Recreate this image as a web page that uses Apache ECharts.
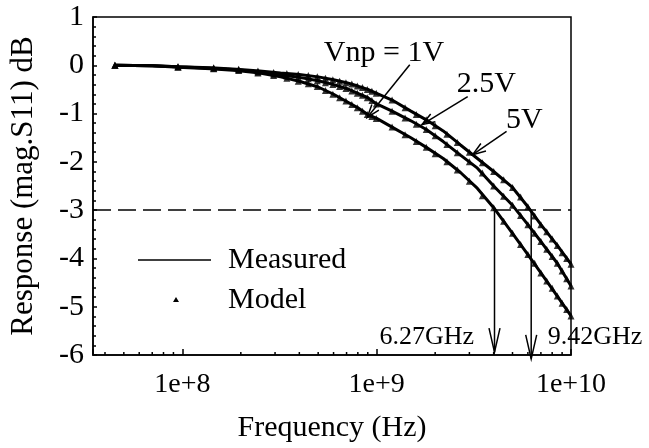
<!DOCTYPE html>
<html><head><meta charset="utf-8">
<script src="https://cdn.jsdelivr.net/npm/echarts@6/dist/echarts.min.js"></script>
<style>html,body{margin:0;padding:0;background:#fff}#c{width:649px;height:448px}</style>
</head><body><div id="c"></div>
<script>
// ---- data (frequency in Hz, response in dB) ----
const freqMeasured = [4.5e7, 7e7, 9.5e7, 1.4e8, 1.9e8, 2.5e8, 3.2e8, 4e8, 5e8, 6e8, 7e8, 8e8, 9e8, 1e9, 1.2e9, 1.5e9, 1.8e9, 2.2e9, 2.7e9, 3.3e9, 4e9, 5e9, 6e9, 7e9, 8.5e9, 1e10];
const meas5V  = [0, -0.01, -0.03, -0.05, -0.08, -0.12, -0.16, -0.19, -0.24, -0.30, -0.36, -0.43, -0.50, -0.58, -0.72, -0.95, -1.13, -1.36, -1.65, -1.93, -2.20, -2.53, -2.93, -3.30, -3.73, -4.12];
const meas25V = [0, -0.01, -0.03, -0.06, -0.09, -0.14, -0.20, -0.25, -0.32, -0.40, -0.48, -0.58, -0.67, -0.80, -0.95, -1.15, -1.33, -1.58, -1.86, -2.13, -2.50, -2.90, -3.30, -3.65, -4.10, -4.57];
const meas1V  = [0, -0.01, -0.04, -0.07, -0.11, -0.16, -0.24, -0.33, -0.45, -0.60, -0.75, -0.88, -1.02, -1.10, -1.28, -1.50, -1.70, -1.93, -2.22, -2.55, -2.95, -3.48, -3.92, -4.30, -4.78, -5.19];

const freqModel = [4.5e7, 9.5e7, 1.45e8, 1.95e8, 2.45e8, 2.95e8, 3.45e8, 3.95e8, 4.45e8, 4.95e8, 5.45e8, 5.95e8, 6.45e8, 6.95e8, 7.45e8, 7.95e8, 8.45e8, 8.95e8, 9.45e8, 9.95e8, 1.2e9, 1.4e9, 1.6e9, 1.8e9, 2.0e9, 2.3e9, 2.6e9, 3.0e9, 3.5e9, 4.0e9, 4.5e9, 5.0e9, 5.5e9, 6.0e9, 6.5e9, 7.0e9, 7.5e9, 8.0e9, 8.5e9, 9.0e9, 9.5e9, 1.0e10];
const model5V  = [0, -0.03, -0.05, -0.08, -0.12, -0.15, -0.17, -0.19, -0.21, -0.24, -0.27, -0.30, -0.33, -0.36, -0.39, -0.43, -0.46, -0.50, -0.54, -0.58, -0.72, -0.88, -1.02, -1.13, -1.25, -1.43, -1.60, -1.80, -2.02, -2.20, -2.37, -2.53, -2.73, -2.93, -3.12, -3.30, -3.45, -3.60, -3.73, -3.88, -4.00, -4.12];
const model25V = [0, -0.03, -0.06, -0.09, -0.14, -0.18, -0.22, -0.25, -0.28, -0.32, -0.36, -0.40, -0.44, -0.48, -0.53, -0.58, -0.62, -0.67, -0.73, -0.80, -0.95, -1.09, -1.22, -1.33, -1.46, -1.64, -1.81, -2.00, -2.23, -2.50, -2.71, -2.90, -3.11, -3.30, -3.48, -3.65, -3.81, -3.96, -4.10, -4.26, -4.42, -4.57];
const model1V  = [0, -0.04, -0.07, -0.11, -0.16, -0.21, -0.27, -0.33, -0.38, -0.44, -0.52, -0.60, -0.67, -0.74, -0.81, -0.88, -0.95, -1.02, -1.06, -1.10, -1.28, -1.44, -1.58, -1.70, -1.83, -2.00, -2.17, -2.40, -2.70, -2.95, -3.23, -3.48, -3.71, -3.92, -4.10, -4.30, -4.47, -4.62, -4.78, -4.93, -5.06, -5.19];

const xTickValues = [1e8, 1e9, 1e10];
const xTickLabels = ['1e+8', '1e+9', '1e+10'];
const xMinorTicks = [4e7, 5e7, 6e7, 7e7, 8e7, 9e7, 2e8, 3e8, 4e8, 5e8, 6e8, 7e8, 8e8, 9e8, 2e9, 3e9, 4e9, 5e9, 6e9, 7e9, 8e9, 9e9];
const refLevel = -3;
const voltLabels = ['Vnp = 1V', '2.5V', '5V'];
const voltArrowTarget = [[8.94e8, -1.08], [1.71e9, -1.23], [3.12e9, -1.85]];
const cutoffFreqs = [4.04e9, 6.24e9];
const cutoffLabels = ['6.27GHz', '9.42GHz'];
const legendLabels = ['Measured', 'Model'];

// ---- annotation layout (data coordinates) ----
const voltArrowFrom = [[1.48e9, 0.01], [2.94e9, -0.65], [4.66e9, -1.37]];
const voltLabelAt = [[1.09e9, 0.26], [3.67e9, -0.38], [5.76e9, -1.14]];
const cutoffTipAt = [-5.94, -6.08];
const cutoffLabelAt = [[1.81e9, -5.63], [1.33e10, -5.63]];

const FONT = '"Liberation Serif", "Times New Roman", serif';
const X_MIN = 3.47e7, X_MAX = 1e10;

function pair(xs, ys) { return xs.map((x, i) => [x, ys[i]]); }
function vHead(tip, from, len, half) {
  const dx = from[0] - tip[0], dy = from[1] - tip[1];
  const d = Math.hypot(dx, dy) || 1, ux = dx / d, uy = dy / d;
  const bx = tip[0] + ux * len, by = tip[1] + uy * len, px = -uy, py = ux;
  return [[bx + px * half, by + py * half], tip, [bx - px * half, by - py * half]];
}

function measSeries(name, ys) {
  return { name, type: 'line', data: pair(freqMeasured, ys), showSymbol: false, symbol: 'none',
    lineStyle: { color: '#000', width: 3 }, itemStyle: { color: '#000' }, z: 3, silent: true, animation: false };
}
function modelSeries(name, ys) {
  return { name, type: 'scatter', data: pair(freqModel, ys), symbol: 'triangle', symbolSize: 7,
    itemStyle: { color: '#000' }, z: 4, silent: true, animation: false };
}

const chart = echarts.init(document.getElementById('c'), null, { renderer: 'canvas' });
chart.setOption({
  backgroundColor: '#fff',
  animation: false,
  grid: { left: 91, top: 17, width: 480, height: 339, show: true, borderColor: '#000', borderWidth: 1.5, backgroundColor: 'transparent' },
  xAxis: {
    type: 'log', logBase: 10, min: X_MIN, max: X_MAX,
    name: 'Frequency (Hz)', nameLocation: 'middle', nameGap: 58,
    nameTextStyle: { fontFamily: FONT, fontSize: 30, color: '#000' },
    axisLine: { show: true, onZero: false, lineStyle: { color: '#000', width: 1.5 } },
    axisTick: { show: true, inside: true, length: 6, lineStyle: { color: '#000', width: 1.5 } },
    minorTick: { show: false },
    splitLine: { show: false },
    axisLabel: {
      fontFamily: FONT, fontSize: 28, color: '#000', margin: 16,
      formatter: function (v) {
        for (let i = 0; i < xTickValues.length; i++) {
          if (Math.abs(Math.log10(v) - Math.log10(xTickValues[i])) < 1e-6) return xTickLabels[i];
        }
        return '';
      }
    }
  },
  yAxis: {
    type: 'value', min: -6, max: 1, interval: 1,
    name: 'Response (mag.S11) dB', nameLocation: 'middle', nameGap: 54, nameRotate: 90,
    nameTextStyle: { fontFamily: FONT, fontSize: 31, color: '#000' },
    axisLine: { show: true, onZero: false, lineStyle: { color: '#000', width: 1.5 } },
    axisTick: { show: true, inside: true, length: 4, lineStyle: { color: '#000', width: 1.5 } },
    minorTick: { show: true, splitNumber: 5, length: 3, lineStyle: { color: '#000', width: 1.5 } },
    splitLine: { show: false },
    axisLabel: { fontFamily: FONT, fontSize: 30, color: '#000', margin: 9 }
  },
  series: [
    measSeries('Measured 1V', meas1V),
    measSeries('Measured 2.5V', meas25V),
    measSeries('Measured 5V', meas5V),
    modelSeries('Model 1V', model1V),
    modelSeries('Model 2.5V', model25V),
    modelSeries('Model 5V', model5V),
    { // -3 dB reference line
      type: 'line', data: [], silent: true,
      markLine: { silent: true, symbol: ['none', 'none'], label: { show: false },
        lineStyle: { color: '#000', width: 1.5, type: [18, 7] },
        data: [{ yAxis: refLevel }] }
    },
    { // minor ticks on the log axis (at 2..9 x 10^n)
      type: 'custom', silent: true, clip: false, z: 5,
      data: xMinorTicks.map(f => [f, -6]),
      renderItem: function (params, api) {
        const p = api.coord([api.value(0), api.value(1)]);
        return { type: 'line', shape: { x1: p[0], y1: p[1], x2: p[0], y2: p[1] - 3 }, style: { stroke: '#000', lineWidth: 1.5 } };
      }
    },
    { // voltage annotations with arrows
      type: 'custom', silent: true, clip: false, z: 6,
      data: voltArrowTarget,
      renderItem: function (params, api) {
        const i = params.dataIndex;
        const e = api.coord([api.value(0), api.value(1)]);
        const s = api.coord(voltArrowFrom[i]);
        const t = api.coord(voltLabelAt[i]);
        return { type: 'group', children: [
          { type: 'line', shape: { x1: s[0], y1: s[1], x2: e[0], y2: e[1] }, style: { stroke: '#000', lineWidth: 1.5 } },
          { type: 'polyline', shape: { points: vHead(e, s, 13, 4.5) }, style: { stroke: '#000', lineWidth: 1.5, fill: null } },
          { type: 'text', style: { text: voltLabels[i], x: t[0], y: t[1], align: 'center', verticalAlign: 'middle', font: '30px ' + FONT, fill: '#000' } }
        ] };
      }
    },
    { // cutoff frequency arrows
      type: 'custom', silent: true, clip: false, z: 6,
      data: cutoffFreqs.map(f => [f, refLevel]),
      renderItem: function (params, api) {
        const i = params.dataIndex;
        const s = api.coord([api.value(0), api.value(1)]);
        const e = api.coord([api.value(0), cutoffTipAt[i]]);
        const t = api.coord(cutoffLabelAt[i]);
        return { type: 'group', children: [
          { type: 'line', shape: { x1: s[0], y1: s[1], x2: e[0], y2: e[1] }, style: { stroke: '#000', lineWidth: 1.5 } },
          { type: 'polyline', shape: { points: vHead(e, s, 24, 5.5) }, style: { stroke: '#000', lineWidth: 1.5, fill: null } },
          { type: 'text', style: { text: cutoffLabels[i], x: t[0], y: t[1], align: 'center', verticalAlign: 'middle', font: '26px ' + FONT, fill: '#000' } }
        ] };
      }
    }
  ],
  graphic: [
    { type: 'line', shape: { x1: 138, y1: 260, x2: 211, y2: 260 }, style: { stroke: '#000', lineWidth: 1.5 } },
    { type: 'text', x: 228, y: 260, style: { text: legendLabels[0], font: '30px ' + FONT, fill: '#000', align: 'left', verticalAlign: 'middle' } },
    { type: 'polygon', shape: { points: [[176, 297], [173, 302], [179, 302]] }, style: { fill: '#000' } },
    { type: 'text', x: 228, y: 300, style: { text: legendLabels[1], font: '30px ' + FONT, fill: '#000', align: 'left', verticalAlign: 'middle' } }
  ]
});
</script>
</body></html>
